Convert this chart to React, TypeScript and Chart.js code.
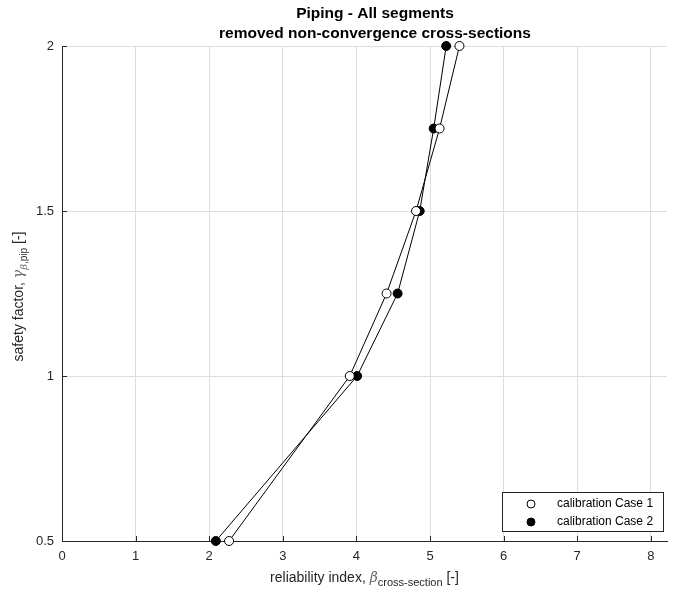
import { useEffect, useRef } from "react";
import { Chart, registerables } from "chart.js";

Chart.register(...registerables);

// ---- data ----
const safetyFactors = [0.5, 1, 1.25, 1.5, 1.75, 2];
const betaCase1 = [2.27, 3.91, 4.41, 4.81, 5.13, 5.4];
const betaCase2 = [2.09, 4.01, 4.56, 4.86, 5.05, 5.22];
const seriesLabels = ["calibration Case 1", "calibration Case 2"];
const titleLines = ["Piping - All segments", "removed non-convergence cross-sections"];
const xTickValues = [0, 1, 2, 3, 4, 5, 6, 7, 8];

const FONT = '"Liberation Sans", Arial, Helvetica, sans-serif';
const GREEK = '"DejaVu Serif", "Liberation Serif", serif';
const AXIS_COLOR = "#262626";
const GRID_COLOR = "#dedede";

type Part = { text: string; font: string; color: string; dy: number };

function measureParts(ctx: CanvasRenderingContext2D, parts: Part[]) {
  let w = 0;
  for (const p of parts) {
    ctx.font = p.font;
    w += ctx.measureText(p.text).width;
  }
  return w;
}

function drawParts(ctx: CanvasRenderingContext2D, parts: Part[], cx: number, cy: number) {
  const total = measureParts(ctx, parts);
  let x = cx - total / 2;
  ctx.textAlign = "left";
  ctx.textBaseline = "middle";
  for (const p of parts) {
    ctx.font = p.font;
    ctx.fillStyle = p.color;
    ctx.fillText(p.text, x, cy + p.dy);
    x += ctx.measureText(p.text).width;
  }
}

const decorPlugin = {
  id: "decor",
  afterDraw(chart: any) {
    const ctx: CanvasRenderingContext2D = chart.ctx;
    const a = chart.chartArea;
    const xs = chart.scales.x;
    const ys = chart.scales.y;
    ctx.save();

    // inward tick marks
    ctx.strokeStyle = AXIS_COLOR;
    ctx.lineWidth = 1;
    ctx.beginPath();
    xs.ticks.forEach((t: any) => {
      const px = Math.round(xs.getPixelForValue(t.value)) + 0.5;
      ctx.moveTo(px, a.bottom);
      ctx.lineTo(px, a.bottom - 5);
    });
    ys.ticks.forEach((t: any) => {
      const py = Math.round(ys.getPixelForValue(t.value)) + 0.5;
      ctx.moveTo(a.left, py);
      ctx.lineTo(a.left + 5, py);
    });
    ctx.stroke();

    // title
    ctx.fillStyle = "#000";
    ctx.font = `bold 15.5px ${FONT}`;
    ctx.textAlign = "center";
    ctx.textBaseline = "middle";
    ctx.fillText(titleLines[0], 375, 14);
    ctx.fillText(titleLines[1], 375, 34);

    // x axis title
    drawParts(
      ctx,
      [
        { text: "reliability index, ", font: `14px ${FONT}`, color: AXIS_COLOR, dy: 0 },
        { text: "\u03B2", font: `italic 14px ${GREEK}`, color: "#666", dy: 0 },
        { text: "cross-section", font: `11px ${FONT}`, color: AXIS_COLOR, dy: 5 },
        { text: " [-]", font: `14px ${FONT}`, color: AXIS_COLOR, dy: 0 },
      ],
      (a.left + a.right) / 2,
      578
    );

    // y axis title (rotated)
    ctx.save();
    ctx.translate(19, (a.top + a.bottom) / 2 + 3);
    ctx.rotate(-Math.PI / 2);
    drawParts(
      ctx,
      [
        { text: "safety factor, ", font: `14px ${FONT}`, color: AXIS_COLOR, dy: 0 },
        { text: "\u03B3", font: `italic 14px ${GREEK}`, color: "#666", dy: 0 },
        { text: "\u03B2", font: `italic 10px ${GREEK}`, color: "#666", dy: 5 },
        { text: ",pip", font: `10px ${FONT}`, color: AXIS_COLOR, dy: 5 },
        { text: " [-]", font: `14px ${FONT}`, color: AXIS_COLOR, dy: 0 },
      ],
      0,
      0
    );
    ctx.restore();

    // legend
    const lx = 502.5, ly = 492.5, lw = 161, lh = 39;
    ctx.fillStyle = "#fff";
    ctx.fillRect(lx, ly, lw, lh);
    ctx.strokeStyle = AXIS_COLOR;
    ctx.lineWidth = 1;
    ctx.strokeRect(lx, ly, lw, lh);
    const ds = chart.data.datasets;
    ds.forEach((d: any, i: number) => {
      const cy = 504 + i * 18;
      ctx.beginPath();
      ctx.arc(531, cy, 4, 0, Math.PI * 2);
      ctx.fillStyle = d.pointBackgroundColor;
      ctx.fill();
      ctx.strokeStyle = "#000";
      ctx.stroke();
      ctx.fillStyle = "#000";
      ctx.font = `12px ${FONT}`;
      ctx.textAlign = "left";
      ctx.textBaseline = "middle";
      ctx.fillText(d.label, 557, cy);
    });

    ctx.restore();
  },
};

export default function App() {
  const canvasRef = useRef<HTMLCanvasElement | null>(null);

  useEffect(() => {
    const canvas = canvasRef.current;
    if (!canvas) return;
    const chart = new Chart(canvas, {
      type: "scatter",
      data: {
        datasets: [
          {
            label: seriesLabels[0],
            data: betaCase1.map((x, i) => ({ x, y: safetyFactors[i] })),
            showLine: true,
            clip: false,
            borderColor: "#000",
            borderWidth: 1,
            pointRadius: 4.5,
            pointBorderWidth: 1,
            pointBackgroundColor: "#fff",
            pointBorderColor: "#000",
          },
          {
            label: seriesLabels[1],
            data: betaCase2.map((x, i) => ({ x, y: safetyFactors[i] })),
            showLine: true,
            clip: false,
            borderColor: "#000",
            borderWidth: 1,
            pointRadius: 4.5,
            pointBorderWidth: 1,
            pointBackgroundColor: "#000",
            pointBorderColor: "#000",
          },
        ],
      },
      options: {
        responsive: false,
        animation: false,
        layout: { padding: { top: 46, right: 11, left: 0, bottom: 0 } },
        plugins: {
          legend: { display: false },
          title: { display: false },
          tooltip: { enabled: false },
        },
        scales: {
          x: {
            type: "linear",
            min: 0,
            max: 8.22,
            afterBuildTicks: (s: any) => {
              s.ticks = xTickValues.map((v) => ({ value: v }));
            },
            afterFit: (s: any) => {
              s.height = 50;
            },
            ticks: {
              color: AXIS_COLOR,
              font: { family: FONT, size: 13 },
              padding: 8,
              callback: (v: any) => String(v),
            },
            grid: { color: GRID_COLOR, drawTicks: false },
            border: { color: AXIS_COLOR },
          },
          y: {
            type: "linear",
            min: 0.5,
            max: 2,
            ticks: {
              stepSize: 0.5,
              color: AXIS_COLOR,
              font: { family: FONT, size: 13 },
              padding: 8,
              callback: (v: any) => String(Number(v)),
            },
            afterFit: (s: any) => {
              s.width = 62;
            },
            grid: { color: GRID_COLOR, drawTicks: false },
            border: { color: AXIS_COLOR },
          },
        },
      },
      plugins: [decorPlugin],
    } as any);
    return () => chart.destroy();
  }, []);

  return (
    <div style={{ position: "fixed", left: 0, top: 0, width: 678, height: 591, background: "#fff" }}>
      <canvas ref={canvasRef} width={678} height={591} style={{ display: "block" }} />
    </div>
  );
}
